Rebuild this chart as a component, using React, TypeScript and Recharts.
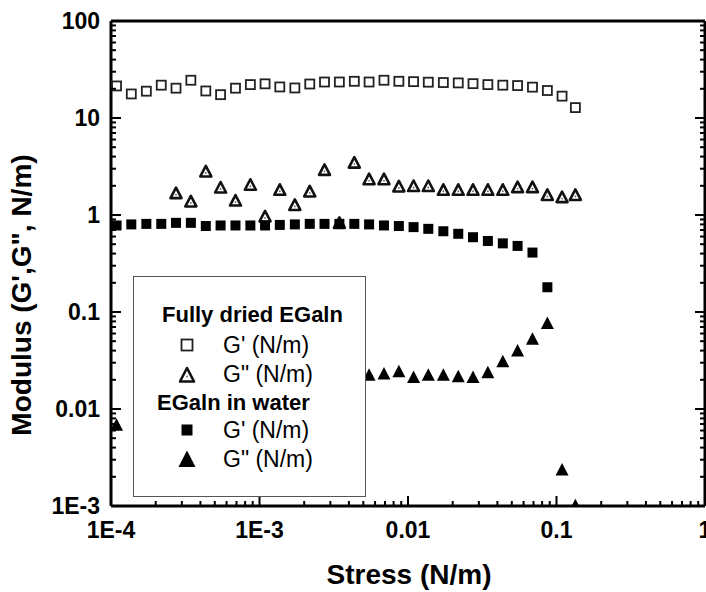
import React from "react";
import { ScatterChart, Scatter, XAxis, YAxis } from "recharts";

// stress points (N/m)
const stress = [
  1.09e-4, 1.37e-4, 1.73e-4, 2.18e-4, 2.74e-4, 3.45e-4, 4.35e-4, 5.47e-4,
  6.89e-4, 8.68e-4, 1.09e-3, 1.37e-3, 1.73e-3, 2.18e-3, 2.74e-3, 3.45e-3,
  4.35e-3, 5.47e-3, 6.89e-3, 8.68e-3, 0.0109, 0.0137, 0.0173, 0.0218,
  0.0274, 0.0345, 0.0435, 0.0547, 0.0689, 0.0868, 0.109, 0.134,
];

// Fully dried EGaIn
const dryStorage = [
  21.4, 17.7, 18.9, 21.8, 20.3, 24.5, 19.0, 17.4, 20.3, 22.1, 22.5, 20.9,
  20.4, 22.4, 23.5, 23.5, 23.9, 23.5, 24.5, 23.9, 23.7, 23.4, 23.2, 23.0,
  22.6, 22.1, 21.8, 21.6, 20.8, 19.2, 16.8, 12.8,
];
const dryLoss = [
  null, null, null, null, 1.68, 1.38, 2.81, 1.92, 1.41, 2.05, 0.966, 1.82,
  1.27, 1.75, 2.92, 0.83, 3.47, 2.34, 2.34, 1.97, 1.99, 1.99, 1.82, 1.82,
  1.82, 1.82, 1.82, 1.94, 1.94, 1.61, 1.53, 1.61,
];

// EGaIn in water
const wetStorage = [
  0.78, 0.8, 0.81, 0.81, 0.83, 0.83, 0.77, 0.78, 0.78, 0.78, 0.78, 0.79,
  0.8, 0.81, 0.81, 0.81, 0.81, 0.8, 0.78, 0.77, 0.75, 0.72, 0.68, 0.64,
  0.59, 0.54, 0.51, 0.48, 0.41, 0.18, null, null,
];
const wetLoss = [
  0.0069, null, null, null, null, null, null, null, null, null, null, null,
  null, null, null, null, null, 0.0226, 0.0232, 0.0245, 0.0214, 0.0226,
  0.0226, 0.0217, 0.0214, 0.0239, 0.031, 0.04, 0.053, 0.077, 0.00238, 0.00102,
];

const xMajors = [1e-4, 1e-3, 1e-2, 1e-1, 1];
const xTickLabels = ["1E-4", "1E-3", "0.01", "0.1", "1"];
const yMajors = [1e-3, 1e-2, 1e-1, 1, 10, 100];
const yTickLabels = ["1E-3", "0.01", "0.1", "1", "10", "100"];

const FONT = "Arial, 'Liberation Sans', sans-serif";

// majors plus the 2..9 minors of every decade
function withMinors(majors: number[]) {
  const out: number[] = [];
  for (let i = 0; i < majors.length - 1; i++) {
    for (let m = 1; m < 10; m++) out.push(majors[i] * m);
  }
  out.push(majors[majors.length - 1]);
  return out;
}
const xTicks = withMinors(xMajors);
const yTicks = withMinors(yMajors);

function majorIndex(v: number, majors: number[]) {
  return majors.findIndex(
    (m) => Math.abs(Math.log10(v) - Math.log10(m)) < 1e-6
  );
}

function toPoints(values: (number | null)[]) {
  return stress
    .map((x, i) => ({ x, y: values[i] }))
    .filter((p) => p.y != null);
}

// ---- tick renderers (ticks point inward on all four sides) ----

function BottomTick(props: any) {
  const { x, y, payload } = props;
  const idx = majorIndex(payload.value, xMajors);
  const len = idx >= 0 ? 10 : 5;
  return (
    <g>
      <line x1={x} x2={x} y1={y} y2={y - len} stroke="#000" strokeWidth={2} />
      {idx >= 0 && (
        <text
          x={x}
          y={y + 32}
          textAnchor="middle"
          fontFamily={FONT}
          fontWeight="bold"
          fontSize={23}
          fill="#000"
        >
          {xTickLabels[idx]}
        </text>
      )}
    </g>
  );
}

function TopTick(props: any) {
  const { x, y, payload } = props;
  const len = majorIndex(payload.value, xMajors) >= 0 ? 10 : 5;
  return <line x1={x} x2={x} y1={y} y2={y + len} stroke="#000" strokeWidth={2} />;
}

function LeftTick(props: any) {
  const { x, y, payload } = props;
  const idx = majorIndex(payload.value, yMajors);
  const len = idx >= 0 ? 10 : 5;
  return (
    <g>
      <line x1={x} x2={x + len} y1={y} y2={y} stroke="#000" strokeWidth={2} />
      {idx >= 0 && (
        <text
          x={x - 11}
          y={y + 8}
          textAnchor="end"
          fontFamily={FONT}
          fontWeight="bold"
          fontSize={23}
          fill="#000"
        >
          {yTickLabels[idx]}
        </text>
      )}
    </g>
  );
}

function RightTick(props: any) {
  const { x, y, payload } = props;
  const len = majorIndex(payload.value, yMajors) >= 0 ? 10 : 5;
  return <line x1={x} x2={x - len} y1={y} y2={y} stroke="#000" strokeWidth={2} />;
}

// ---- marker shapes (side = pixel size, kept apart from recharts' own size prop) ----

function OpenSquare({ cx, cy, side }: { cx: number; cy: number; side: number }) {
  const h = side / 2;
  return (
    <rect x={cx - h} y={cy - h} width={side} height={side} fill="#fff" stroke="#222" strokeWidth={1.8} />
  );
}

function OpenTriangle({ cx, cy, side }: { cx: number; cy: number; side: number }) {
  const h = side / 2;
  return (
    <g>
      <path
        d={`M${cx},${cy - h} L${cx + h},${cy + h - 0.5} L${cx - h},${cy + h - 0.5} Z`}
        fill="#fff"
        stroke="#111"
        strokeWidth={2.6}
        strokeLinejoin="round"
      />
      <circle cx={cx} cy={cy + 1.5} r={0.9} fill="#666" />
    </g>
  );
}

function FilledSquare({ cx, cy, side }: { cx: number; cy: number; side: number }) {
  const h = side / 2;
  return <rect x={cx - h} y={cy - h} width={side} height={side} fill="#000" />;
}

function FilledTriangle({ cx, cy, side }: { cx: number; cy: number; side: number }) {
  const h = side / 2;
  return (
    <path d={`M${cx},${cy - h} L${cx + h},${cy + h - 0.5} L${cx - h},${cy + h - 0.5} Z`} fill="#000" />
  );
}

const axisLine = { stroke: "#000", strokeWidth: 3 };

export default function App() {
  return (
    <div style={{ position: "relative", width: 706, height: 592, background: "#fff" }}>
      <style>{"body{margin:0}"}</style>
      <ScatterChart
        width={706}
        height={592}
        margin={{ top: 20, right: 0, bottom: 46, left: 51 }}
      >
        <XAxis
          dataKey="x"
          type="number"
          scale="log"
          domain={[1e-4, 1]}
          allowDataOverflow
          ticks={xTicks}
          interval={0}
          height={40}
          tickSize={0}
          tickMargin={0}
          tickLine={false}
          axisLine={axisLine}
          tick={BottomTick}
        />
        <XAxis
          xAxisId="top"
          orientation="top"
          type="number"
          scale="log"
          domain={[1e-4, 1]}
          allowDataOverflow
          ticks={xTicks}
          interval={0}
          height={1}
          tickSize={0}
          tickMargin={0}
          tickLine={false}
          axisLine={axisLine}
          tick={TopTick}
        />
        <YAxis
          dataKey="y"
          type="number"
          scale="log"
          domain={[1e-3, 100]}
          allowDataOverflow
          ticks={yTicks}
          interval={0}
          width={60}
          tickSize={0}
          tickMargin={0}
          tickLine={false}
          axisLine={axisLine}
          tick={LeftTick}
        />
        <YAxis
          yAxisId="right"
          orientation="right"
          type="number"
          scale="log"
          domain={[1e-3, 100]}
          allowDataOverflow
          ticks={yTicks}
          interval={0}
          width={1}
          tickSize={0}
          tickMargin={0}
          tickLine={false}
          axisLine={axisLine}
          tick={RightTick}
        />
        <Scatter
          data={toPoints(dryStorage)}
          shape={(p: any) => <OpenSquare cx={p.cx} cy={p.cy} side={9} />}
          isAnimationActive={false}
        />
        <Scatter
          data={toPoints(dryLoss)}
          shape={(p: any) => <OpenTriangle cx={p.cx} cy={p.cy} side={11} />}
          isAnimationActive={false}
        />
        <Scatter
          data={toPoints(wetStorage)}
          shape={(p: any) => <FilledSquare cx={p.cx} cy={p.cy} side={10} />}
          isAnimationActive={false}
        />
        <Scatter
          data={toPoints(wetLoss)}
          shape={(p: any) => <FilledTriangle cx={p.cx} cy={p.cy} side={13} />}
          isAnimationActive={false}
        />
      </ScatterChart>

      {/* legend box and axis titles */}
      <svg
        width={706}
        height={592}
        style={{ position: "absolute", left: 0, top: 0, pointerEvents: "none" }}
        fontFamily={FONT}
      >
        <rect x={133.5} y={276.5} width={232} height={220} fill="#fff" stroke="#555" strokeWidth={1} />
        <text x={162} y={322} fontSize={22} fontWeight="bold">Fully dried EGaln</text>
        <OpenSquare cx={187} cy={345} side={11} />
        <text x={223} y={353} fontSize={23}>G' (N/m)</text>
        <OpenTriangle cx={187} cy={375} side={14} />
        <text x={223} y={382} fontSize={23}>G" (N/m)</text>
        <text x={157} y={410} fontSize={22} fontWeight="bold">EGaln in water</text>
        <FilledSquare cx={187} cy={430} side={11} />
        <text x={223} y={438} fontSize={23}>G' (N/m)</text>
        <FilledTriangle cx={187} cy={459} side={17} />
        <text x={223} y={467} fontSize={23}>G" (N/m)</text>

        <text x={409} y={584} textAnchor="middle" fontSize={28} fontWeight="bold">
          Stress (N/m)
        </text>
        <text
          transform="translate(31,295) rotate(-90)"
          textAnchor="middle"
          fontSize={28}
          fontWeight="bold"
        >
          Modulus (G',G", N/m)
        </text>
      </svg>
    </div>
  );
}
